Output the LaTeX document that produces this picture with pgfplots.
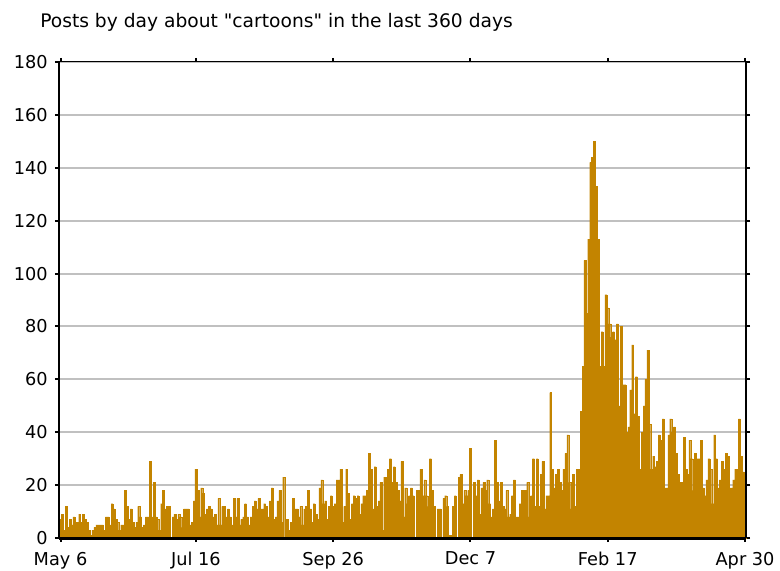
\documentclass[border=0pt]{standalone}
\usepackage{pgfplots}
\pgfplotsset{compat=1.18}
\usepackage{fontspec}
\setmainfont{DejaVu Sans}[Ligatures=TeXOff]
\definecolor{barc}{RGB}{195,132,0}
\definecolor{gridc}{RGB}{192,192,192}
\begin{document}
\begin{tikzpicture}
\begin{axis}[
  scale only axis, width=515.25pt, height=357pt,
  xmin=-0.8, xmax=359.5, ymin=0, ymax=180,
  ytick={0,20,...,180},
  xtick={0,71,143,215,287,359},
  xticklabels={May 6,Jul 16,Sep 26,Dec 7,Feb 17,Apr 30},
  ymajorgrids, grid style={gridc, line width=1.5pt},
  axis line style={black, line width=0.75pt},
  tick align=outside, major tick length=3pt,
  tick style={black, line width=1.5pt},
  minor tick num=0,
  every tick label/.append style={font=\fontsize{13.3}{15}\selectfont},
  /pgf/number format/assume math mode=true,
  yticklabel style={xshift=-2pt},
  xticklabel style={yshift=-4pt},
  clip=false,
]
\addplot[ybar, bar width=1, bar shift=0pt, fill=barc, draw=barc, line width=0.1pt]
table[row sep=\\, header=false, x expr=\coordindex, y index=0]{
7\\9\\3\\12\\4\\7\\5\\8\\6\\6\\
9\\6\\9\\7\\6\\3\\1\\3\\4\\5\\
5\\5\\5\\3\\8\\8\\5\\13\\11\\7\\
6\\3\\5\\5\\18\\12\\7\\11\\6\\4\\
6\\12\\8\\4\\5\\8\\8\\29\\8\\21\\
8\\7\\3\\13\\18\\11\\12\\12\\0\\8\\
9\\7\\
9\\8\\4\\11\\11\\11\\5\\6\\14\\26\\
18\\8\\19\\17\\9\\11\\12\\11\\8\\9\\
5\\15\\5\\12\\12\\8\\11\\8\\5\\15\\
8\\
15\\5\\7\\8\\13\\8\\5\\8\\12\\14\\
11\\15\\11\\11\\13\\12\\8\\14\\19\\7\\
8\\14\\18\\6\\23\\0\\7\\3\\6\\15\\
11\\
11\\8\\12\\5\\11\\12\\18\\11\\6\\13\\
9\\7\\19\\22\\13\\14\\7\\12\\16\\12\\
13\\22\\22\\26\\6\\12\\26\\17\\7\\13\\
16\\15\\
16\\9\\13\\16\\16\\18\\32\\26\\11\\27\\
12\\14\\21\\3\\23\\23\\26\\30\\21\\27\\
21\\18\\14\\29\\8\\19\\13\\16\\19\\16\\
0\\18\\
18\\26\\16\\22\\16\\12\\30\\18\\12\\0\\
11\\11\\0\\15\\16\\12\\1\\1\\12\\16\\
0\\23\\24\\13\\18\\16\\18\\34\\0\\21\\
16\\22\\
9\\19\\21\\18\\22\\13\\8\\11\\37\\21\\
14\\21\\12\\11\\18\\8\\9\\16\\22\\8\\
8\\13\\18\\18\\18\\21\\8\\16\\30\\12\\
30\\12\\24\\29\\11\\16\\16\\55\\26\\19\\
24\\26\\21\\18\\26\\32\\39\\21\\11\\24\\
12\\26\\26\\48\\
65\\105\\85\\113\\142\\144\\150\\133\\113\\65\\
78\\65\\92\\87\\81\\76\\78\\75\\81\\50\\
80\\
58\\58\\40\\42\\56\\73\\47\\61\\46\\26\\
40\\50\\60\\71\\43\\26\\31\\27\\29\\39\\
37\\45\\19\\19\\39\\45\\40\\42\\32\\24\\
21\\
21\\38\\26\\24\\37\\30\\18\\32\\30\\30\\
37\\19\\16\\22\\30\\26\\13\\39\\30\\19\\
22\\29\\26\\32\\31\\19\\19\\22\\26\\26\\
45\\31\\25\\24\\
};
\draw[black, line width=1.5pt] (rel axis cs:0,0) -- (rel axis cs:0,1);
\draw[black, line width=1.5pt] (rel axis cs:1,0) -- (rel axis cs:1,1);
\draw[black, line width=2.25pt] (rel axis cs:0,0) -- (rel axis cs:1,0);
\end{axis}
\node[anchor=west, font=\fontsize{14}{16}\selectfont, inner sep=0pt] at (-14.25pt,387pt) {Posts by day about "cartoons" in the last 360 days};
\pgfresetboundingbox
\path (-44.25pt,-24pt) rectangle (540.75pt,403.5pt);
\end{tikzpicture}
\end{document}
